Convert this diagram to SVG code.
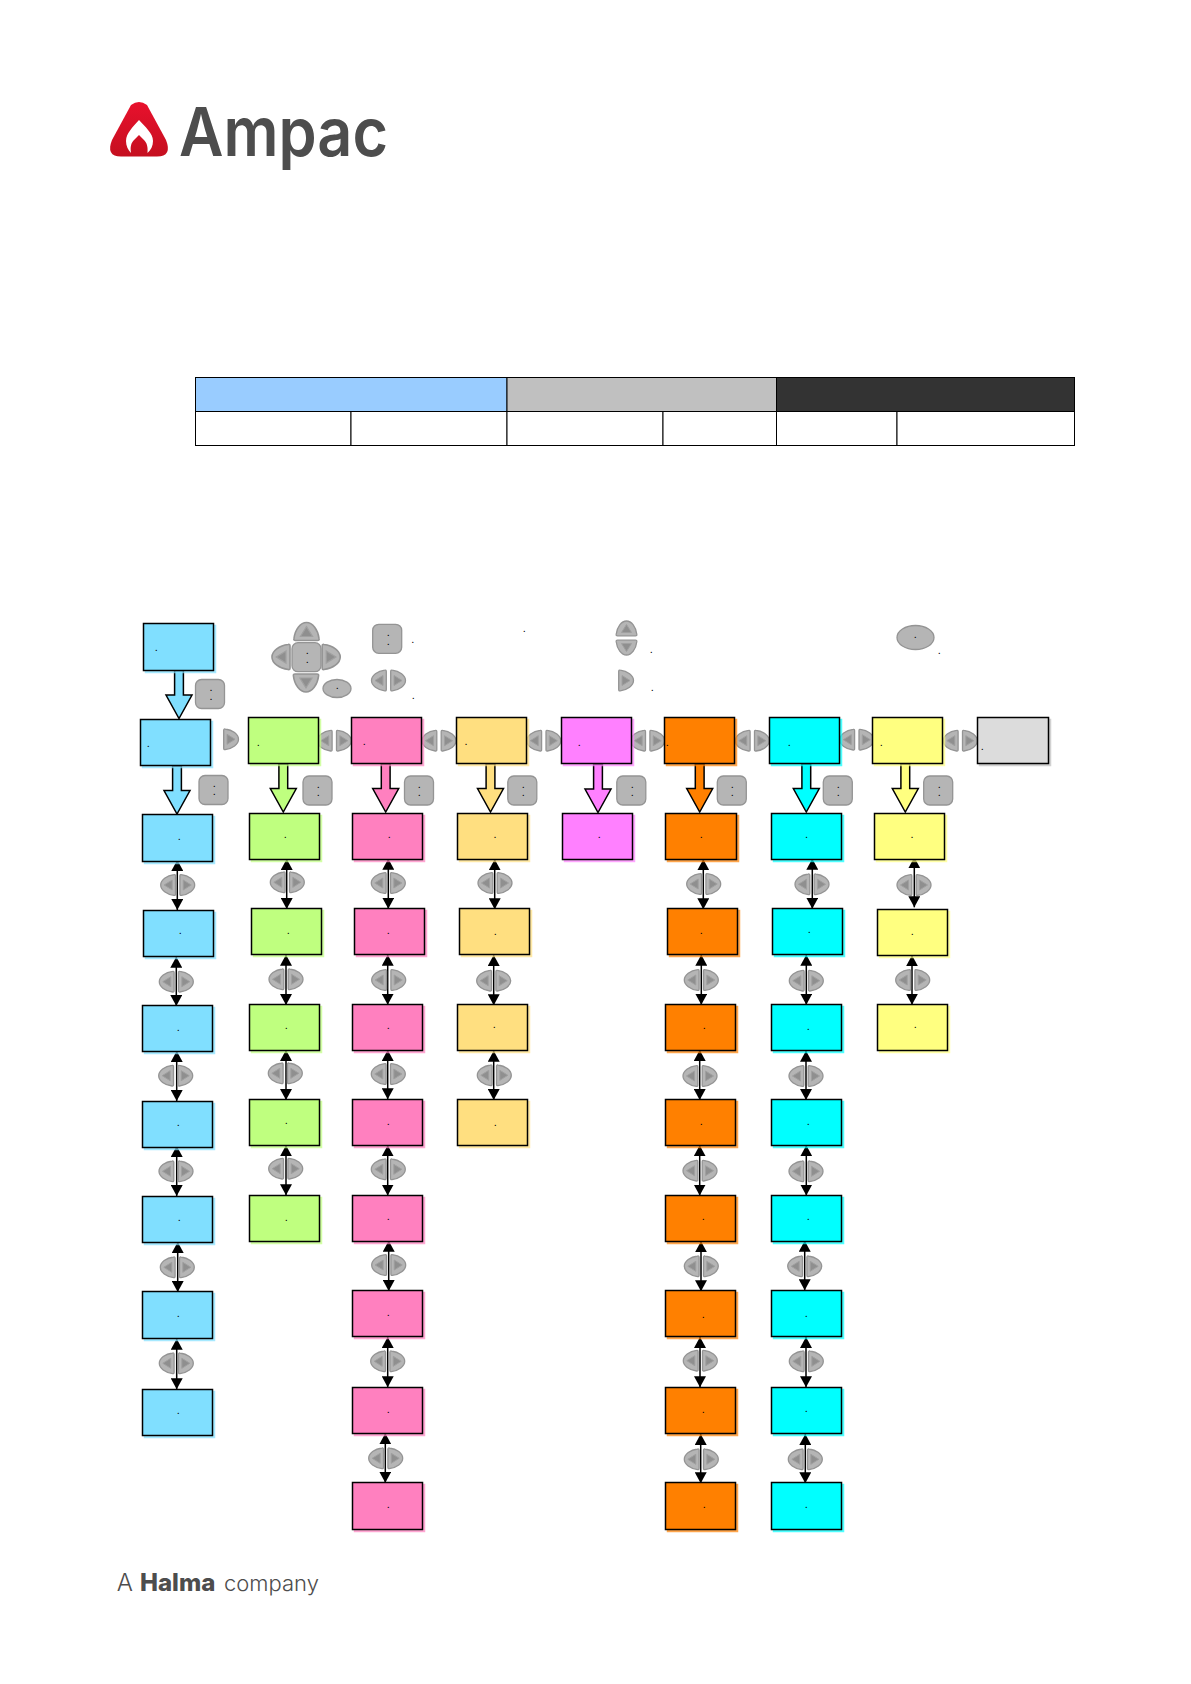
<svg xmlns="http://www.w3.org/2000/svg" width="1191" height="1684" viewBox="0 0 1191 1684">
<style>
.n rect{stroke:#000;stroke-width:1.5}
.blue rect{fill:#80dfff;filter:drop-shadow(2px 2px 0 rgba(128,223,255,.7))}
.green rect{fill:#bfff7f;filter:drop-shadow(2px 2px 0 rgba(191,255,127,.7))}
.pink rect{fill:#ff80bf;filter:drop-shadow(2px 2px 0 rgba(255,128,191,.7))}
.tan rect{fill:#ffdf80;filter:drop-shadow(2px 2px 0 rgba(255,223,128,.7))}
.mag rect{fill:#ff80ff;filter:drop-shadow(2px 2px 0 rgba(255,128,255,.7))}
.org rect{fill:#ff8000;filter:drop-shadow(2px 2px 0 rgba(255,128,0,.7))}
.cyan rect{fill:#0ff;filter:drop-shadow(2px 2px 0 rgba(0,255,255,.7))}
.yel rect{fill:#ffff80;filter:drop-shadow(2px 2px 0 rgba(255,255,128,.7))}
.grey rect{fill:#dcdcdc;filter:drop-shadow(2px 2px 0 rgba(190,190,190,.7))}
.d{font:11px "Liberation Sans",sans-serif;text-anchor:middle;fill:#000}
.f{stroke:#000;stroke-width:1.5}
.l{stroke:#000;stroke-width:1.5;fill:none;marker-start:url(#ah);marker-end:url(#ah)}
.b{fill:#b5b5b5;stroke:#949494;stroke-width:1.3}
.t{fill:#8f8f8f;stroke:#a0a0a0;stroke-width:1}
.tb{stroke:#000;stroke-width:1}
.w{fill:#fff}
.brand{font-family:Inter,Lato,"Liberation Sans",sans-serif;fill:#4d4d4d}
</style>
<defs>
<marker id="ah" markerUnits="userSpaceOnUse" markerWidth="12" markerHeight="12" refX="11" refY="6" orient="auto-start-reverse"><path d="M0,0L11,6L0,12Z" fill="#000"/></marker>
<linearGradient id="lg" x1="0" y1="0" x2="0" y2="1"><stop offset="0" stop-color="#e8112d"/><stop offset="1" stop-color="#c50f1f"/></linearGradient>
<g id="R"><path class="b" d="M2.2,-9Q2.2,-10.7 3.7,-10.3C11,-9.5 17,-5 17,0C17,5 11,9.5 3.7,10.3Q2.2,10.7 2.2,9Z"/><path class="t" d="M5.5,-5L13.5,0L5.5,5Z"/></g>
<g id="P"><use href="#R"/><use href="#R" transform="scale(-1,1)"/></g>
<rect id="K" class="b" x="0" y="0" width="29" height="29" rx="6"/>
<path id="F" class="f" d="M-4.4,0H4.4V24.5H13L0,48L-13,24.5H-4.4Z"/>
</defs>
<rect width="1191" height="1684" fill="#fff"/>

<g id="logo">
<path d="M131,105Q139,99 147,105L166,140Q172.500,156.500 157,156.500L121,156.500Q105.500,156.500 112,140Z" fill="url(#lg)"/>
<path d="M139,120C133,127 126,133 126,141C126,146 128,150 131,153C130,147 131,143 134,140L139,135L144,140C147,143 148,147 147.500,153C151,150 153,146 153,141C153,133 145,127 139,120Z" fill="#fff"/>
<text class="brand" x="179" y="156" font-size="67" font-weight="600" textLength="209" lengthAdjust="spacingAndGlyphs">Ampac</text>
</g>

<g id="table">
<rect class="tb" x="195.5" y="377.5" width="311.5" height="34" fill="#9cf"/>
<rect class="tb" x="507" y="377.5" width="269.5" height="34" fill="#c0c0c0"/>
<rect class="tb" x="776.5" y="377.5" width="298" height="34" fill="#333"/>
<rect class="tb w" x="195.5" y="411.5" width="155.5" height="34"/>
<rect class="tb w" x="351" y="411.5" width="156" height="34"/>
<rect class="tb w" x="507" y="411.5" width="156" height="34"/>
<rect class="tb w" x="663" y="411.5" width="113.5" height="34"/>
<rect class="tb w" x="776.5" y="411.5" width="120.5" height="34"/>
<rect class="tb w" x="897" y="411.5" width="177.5" height="34"/>
</g>

<g id="connectors">
<use href="#F" x="179" y="670.5" fill="#80dfff"/>
<use href="#F" x="177" y="766" fill="#80dfff"/>
<use href="#F" x="283.3" y="764" fill="#bfff7f"/>
<use href="#F" x="385.7" y="764" fill="#ff80bf"/>
<use href="#F" x="490.5" y="764" fill="#ffdf80"/>
<use href="#F" x="598" y="764.5" fill="#ff80ff"/>
<use href="#F" x="699.7" y="764" fill="#ff8000"/>
<use href="#F" x="806.3" y="764" fill="#0ff"/>
<use href="#F" x="905.3" y="764" fill="#ffff80"/>
<path class="l" d="M177.3,860V910"/><path class="l" d="M176.3,956.7V1006"/><path class="l" d="M176.7,1051V1101"/><path class="l" d="M176.7,1146V1196"/><path class="l" d="M177.7,1242V1292"/><path class="l" d="M176.7,1338.7V1389.3"/>
<path class="l" d="M286.7,859V909"/><path class="l" d="M286,954.7V1005"/><path class="l" d="M286,1050V1100"/><path class="l" d="M286,1145.3V1195.3"/>
<path class="l" d="M388.3,858.7V908.7"/><path class="l" d="M387.7,954.7V1004.7"/><path class="l" d="M387.7,1050V1099.3"/><path class="l" d="M387.7,1145.3V1195.5"/><path class="l" d="M388.7,1240.7V1291"/><path class="l" d="M387.7,1337V1387.3"/><path class="l" d="M385.3,1433.3V1482.7"/>
<path class="l" d="M494.7,859.3V909.3"/><path class="l" d="M493.7,955V1005.3"/><path class="l" d="M493.7,1050.7V1100"/>
<path class="l" d="M703.3,859.3V909.3"/><path class="l" d="M701.3,954.7V1004.7"/><path class="l" d="M699.7,1050V1100"/><path class="l" d="M699.7,1145.3V1195.5"/><path class="l" d="M701,1241.3V1291.3"/><path class="l" d="M700,1337V1387.3"/><path class="l" d="M700.7,1434V1483.3"/>
<path class="l" d="M812.3,858.7V908.7"/><path class="l" d="M806.3,954.7V1004.7"/><path class="l" d="M806,1050.7V1100"/><path class="l" d="M806.3,1145.3V1195.5"/><path class="l" d="M804.7,1240.7V1290.3"/><path class="l" d="M806,1337V1387.3"/><path class="l" d="M805.3,1434V1483.3"/>
<path class="l" d="M914.3,857.3V907.3"/><path class="l" d="M912,955.3V1004.7"/>
</g>

<g id="nav-keys">
<use href="#P" x="177.7" y="885"/><use href="#P" x="176.3" y="981.7"/><use href="#P" x="175.7" y="1075.7"/><use href="#P" x="176" y="1171.3"/><use href="#P" x="177.3" y="1267.3"/><use href="#P" x="176.3" y="1363.3"/>
<use href="#P" x="287.3" y="882.3"/><use href="#P" x="286" y="979.3"/><use href="#P" x="285.3" y="1073.3"/><use href="#P" x="285.7" y="1168.7"/>
<use href="#P" x="388.3" y="883"/><use href="#P" x="388.7" y="980"/><use href="#P" x="388.3" y="1074"/><use href="#P" x="388.3" y="1169.3"/><use href="#P" x="388.7" y="1265"/><use href="#P" x="387.7" y="1361.3"/><use href="#P" x="385.7" y="1458.3"/>
<use href="#P" x="495" y="883"/><use href="#P" x="493.7" y="980.7"/><use href="#P" x="494.3" y="1075.3"/>
<use href="#P" x="703.7" y="884"/><use href="#P" x="701.3" y="980"/><use href="#P" x="700" y="1076"/><use href="#P" x="700" y="1170.7"/><use href="#P" x="701.3" y="1266.3"/><use href="#P" x="700.3" y="1360.7"/><use href="#P" x="701.3" y="1459.3"/>
<use href="#P" x="812" y="884.3"/><use href="#P" x="806.3" y="980.7"/><use href="#P" x="806" y="1076"/><use href="#P" x="806" y="1171.3"/><use href="#P" x="804.7" y="1266.3"/><use href="#P" x="806.3" y="1361.3"/><use href="#P" x="805.3" y="1459.3"/>
<use href="#P" x="914" y="885"/><use href="#P" x="912.7" y="980"/>
<use href="#P" x="334.3" y="740.7"/><use href="#P" x="439" y="740.7"/><use href="#P" x="543.8" y="740.7"/><use href="#P" x="647.7" y="740.7"/><use href="#P" x="752.3" y="740.7"/><use href="#P" x="856.8" y="739.7"/><use href="#P" x="960.3" y="740.7"/>
<use href="#R" x="221.5" y="739.3"/>
<use href="#K" x="195.5" y="679.5"/>
<use href="#K" x="199" y="775.5"/><use href="#K" x="303" y="776"/><use href="#K" x="404.5" y="776"/><use href="#K" x="507.8" y="776"/><use href="#K" x="616.8" y="776"/><use href="#K" x="717.3" y="776"/><use href="#K" x="823.3" y="776"/><use href="#K" x="923.7" y="776"/>
</g>

<g id="legend">
<use href="#K" x="292" y="642.7"/>
<use href="#R" transform="translate(306.5,643.2) rotate(-90) scale(1.22)"/>
<use href="#R" transform="translate(306,671.3) rotate(90) scale(1.22)"/>
<use href="#R" transform="translate(292.7,657) scale(-1.22,1.22)"/>
<use href="#R" transform="translate(319.5,657) scale(1.22)"/>
<ellipse class="b" cx="337" cy="688.5" rx="14" ry="9"/>
<use href="#K" x="372.7" y="624.3"/>
<use href="#P" x="388.5" y="680.5"/>
<use href="#R" transform="translate(626.5,638) rotate(-90)"/>
<use href="#R" transform="translate(626.5,638) rotate(90)"/>
<use href="#R" x="616.5" y="680.5"/>
<ellipse class="b" cx="915.5" cy="637.5" rx="18.5" ry="12"/>
<text class="d" x="307.3" y="654.4">.</text><text class="d" x="307.3" y="662.7">.</text><text class="d" x="337.3" y="688.7">.</text>
<text class="d" x="388.3" y="635.7">.</text><text class="d" x="388.3" y="644.7">.</text>
<text class="d" x="412.7" y="642.7">.</text><text class="d" x="413.3" y="698.7">.</text>
<text class="d" x="524.3" y="631.7">.</text><text class="d" x="651.3" y="652.7">.</text><text class="d" x="652.3" y="690.7">.</text>
<text class="d" x="915.3" y="637.7">.</text><text class="d" x="939.3" y="653.7">.</text>
<text class="d" x="211" y="690.7">.</text><text class="d" x="211" y="699.7">.</text>
<text class="d" x="214.3" y="786.7">.</text><text class="d" x="214.3" y="794.7">.</text>
<text class="d" x="318.3" y="787.7">.</text><text class="d" x="318.3" y="795.7">.</text>
<text class="d" x="419.3" y="787.7">.</text><text class="d" x="419.3" y="795.7">.</text>
<text class="d" x="523.3" y="787.7">.</text><text class="d" x="523.3" y="795.7">.</text>
<text class="d" x="632.3" y="787.7">.</text><text class="d" x="632.3" y="795.7">.</text>
<text class="d" x="732.3" y="787.7">.</text><text class="d" x="732.3" y="795.7">.</text>
<text class="d" x="838.3" y="787.7">.</text><text class="d" x="838.3" y="795.7">.</text>
<text class="d" x="939.3" y="787.7">.</text><text class="d" x="939.3" y="795.7">.</text>
</g>

<g id="n0" class="n blue"><rect x="143.5" y="623.5" width="70" height="47"/><text class="d" x="156.3" y="650.7">.</text></g>

<g id="m1" class="n blue"><rect x="140.5" y="719.5" width="70" height="46"/><text class="d" x="148.3" y="746.7">.</text></g>
<g id="m2" class="n green"><rect x="248.5" y="717.5" width="70" height="46"/><text class="d" x="258.3" y="745.7">.</text></g>
<g id="m3" class="n pink"><rect x="351.5" y="717.5" width="70" height="46"/><text class="d" x="364.3" y="744.7">.</text></g>
<g id="m4" class="n tan"><rect x="456.5" y="717.5" width="70" height="46"/><text class="d" x="466" y="745">.</text></g>
<g id="m5" class="n mag"><rect x="561.5" y="717.5" width="70" height="46"/><text class="d" x="579.3" y="745.7">.</text></g>
<g id="m6" class="n org"><rect x="664.5" y="717.5" width="70" height="46"/><text class="d" x="667.3" y="745.7">.</text></g>
<g id="m7" class="n cyan"><rect x="769.5" y="717.5" width="70" height="46"/><text class="d" x="789.3" y="745.7">.</text></g>
<g id="m8" class="n yel"><rect x="872.5" y="717.5" width="70" height="46"/><text class="d" x="881.3" y="745.7">.</text></g>
<g id="m9" class="n grey"><rect x="977.5" y="717.5" width="71" height="46"/><text class="d" x="982.3" y="750.4">.</text></g>

<g id="a1" class="n blue"><rect x="142.5" y="814.5" width="70" height="47"/><text class="d" x="179.3" y="839.7">.</text></g>
<g id="a2" class="n blue"><rect x="143.5" y="910.5" width="70" height="46"/><text class="d" x="180.3" y="933.7">.</text></g>
<g id="a3" class="n blue"><rect x="142.5" y="1005.5" width="70" height="46"/><text class="d" x="178.3" y="1030.7">.</text></g>
<g id="a4" class="n blue"><rect x="142.5" y="1101.5" width="70" height="46"/><text class="d" x="178.3" y="1125.7">.</text></g>
<g id="a5" class="n blue"><rect x="142.5" y="1196.5" width="70" height="46"/><text class="d" x="179.3" y="1220.7">.</text></g>
<g id="a6" class="n blue"><rect x="142.5" y="1291.5" width="70" height="47"/><text class="d" x="178.3" y="1316.7">.</text></g>
<g id="a7" class="n blue"><rect x="142.5" y="1389.5" width="70" height="46"/><text class="d" x="178.3" y="1413.7">.</text></g>

<g id="b1" class="n green"><rect x="249.5" y="813.5" width="70" height="46"/><text class="d" x="285.3" y="837.7">.</text></g>
<g id="b2" class="n green"><rect x="251.5" y="908.5" width="70" height="46"/><text class="d" x="288.3" y="933.7">.</text></g>
<g id="b3" class="n green"><rect x="249.5" y="1004.5" width="70" height="46"/><text class="d" x="286.3" y="1028.7">.</text></g>
<g id="b4" class="n green"><rect x="249.5" y="1099.5" width="70" height="46"/><text class="d" x="286.3" y="1123.7">.</text></g>
<g id="b5" class="n green"><rect x="249.5" y="1195.5" width="70" height="46"/><text class="d" x="286.3" y="1220.7">.</text></g>

<g id="c1" class="n pink"><rect x="352.5" y="813.5" width="70" height="46"/><text class="d" x="389.3" y="837.7">.</text></g>
<g id="c2" class="n pink"><rect x="354.5" y="908.5" width="70" height="46"/><text class="d" x="388.3" y="933.7">.</text></g>
<g id="c3" class="n pink"><rect x="352.5" y="1004.5" width="70" height="46"/><text class="d" x="388.3" y="1028.7">.</text></g>
<g id="c4" class="n pink"><rect x="352.5" y="1099.5" width="70" height="46"/><text class="d" x="388.3" y="1124.7">.</text></g>
<g id="c5" class="n pink"><rect x="352.5" y="1195.5" width="70" height="46"/><text class="d" x="388.3" y="1219.7">.</text></g>
<g id="c6" class="n pink"><rect x="352.5" y="1290.5" width="70" height="46"/><text class="d" x="388.3" y="1315.7">.</text></g>
<g id="c7" class="n pink"><rect x="352.5" y="1387.5" width="70" height="46"/><text class="d" x="388.3" y="1412.7">.</text></g>
<g id="c8" class="n pink"><rect x="352.5" y="1482.5" width="70" height="47"/><text class="d" x="388.3" y="1507.7">.</text></g>

<g id="d1" class="n tan"><rect x="457.5" y="813.5" width="70" height="46"/><text class="d" x="495" y="837.7">.</text></g>
<g id="d2" class="n tan"><rect x="459.5" y="908.5" width="70" height="46"/><text class="d" x="495.3" y="934.7">.</text></g>
<g id="d3" class="n tan"><rect x="457.5" y="1004.5" width="70" height="46"/><text class="d" x="494.3" y="1027.7">.</text></g>
<g id="d4" class="n tan"><rect x="457.5" y="1099.5" width="70" height="46"/><text class="d" x="495.3" y="1125.7">.</text></g>

<g id="e1" class="n mag"><rect x="562.5" y="813.5" width="70" height="46"/><text class="d" x="599.3" y="837.7">.</text></g>

<g id="f1" class="n org"><rect x="665.5" y="813.5" width="71" height="46"/><text class="d" x="701.3" y="837.7">.</text></g>
<g id="f2" class="n org"><rect x="667.5" y="908.5" width="70" height="46"/><text class="d" x="701.3" y="933.7">.</text></g>
<g id="f3" class="n org"><rect x="665.5" y="1004.5" width="70" height="46"/><text class="d" x="704.3" y="1028.7">.</text></g>
<g id="f4" class="n org"><rect x="665.5" y="1099.5" width="70" height="46"/><text class="d" x="701.3" y="1124.7">.</text></g>
<g id="f5" class="n org"><rect x="665.5" y="1195.5" width="70" height="46"/><text class="d" x="703.3" y="1219.7">.</text></g>
<g id="f6" class="n org"><rect x="665.5" y="1290.5" width="70" height="46"/><text class="d" x="703.3" y="1317.7">.</text></g>
<g id="f7" class="n org"><rect x="665.5" y="1387.5" width="70" height="46"/><text class="d" x="703.3" y="1412.7">.</text></g>
<g id="f8" class="n org"><rect x="665.5" y="1482.5" width="70" height="47"/><text class="d" x="704.3" y="1507.7">.</text></g>

<g id="g1" class="n cyan"><rect x="771.5" y="813.5" width="70" height="46"/><text class="d" x="806.6" y="837.7">.</text></g>
<g id="g2" class="n cyan"><rect x="772.5" y="908.5" width="70" height="46"/><text class="d" x="809.3" y="932.7">.</text></g>
<g id="g3" class="n cyan"><rect x="771.5" y="1004.5" width="70" height="46"/><text class="d" x="808.3" y="1029.7">.</text></g>
<g id="g4" class="n cyan"><rect x="771.5" y="1099.5" width="70" height="46"/><text class="d" x="808.3" y="1124.7">.</text></g>
<g id="g5" class="n cyan"><rect x="771.5" y="1195.5" width="70" height="46"/><text class="d" x="808.3" y="1219.7">.</text></g>
<g id="g6" class="n cyan"><rect x="771.5" y="1290.5" width="70" height="46"/><text class="d" x="806.3" y="1316.7">.</text></g>
<g id="g7" class="n cyan"><rect x="771.5" y="1387.5" width="70" height="46"/><text class="d" x="806.3" y="1411.7">.</text></g>
<g id="g8" class="n cyan"><rect x="771.5" y="1482.5" width="70" height="47"/><text class="d" x="806.3" y="1507.7">.</text></g>

<g id="h1" class="n yel"><rect x="874.5" y="813.5" width="70" height="46"/><text class="d" x="912" y="837.7">.</text></g>
<g id="h2" class="n yel"><rect x="877.5" y="909.5" width="70" height="46"/><text class="d" x="912.3" y="934.7">.</text></g>
<g id="h3" class="n yel"><rect x="877.5" y="1004.5" width="70" height="46"/><text class="d" x="915.3" y="1027.7">.</text></g>

<g id="footer"><text class="brand" y="1590.7"><tspan x="116.7" font-size="24" font-weight="300">A</tspan><tspan x="140" font-size="24" font-weight="800">Halma</tspan><tspan x="224" font-size="22" font-weight="300">company</tspan></text></g>
</svg>
